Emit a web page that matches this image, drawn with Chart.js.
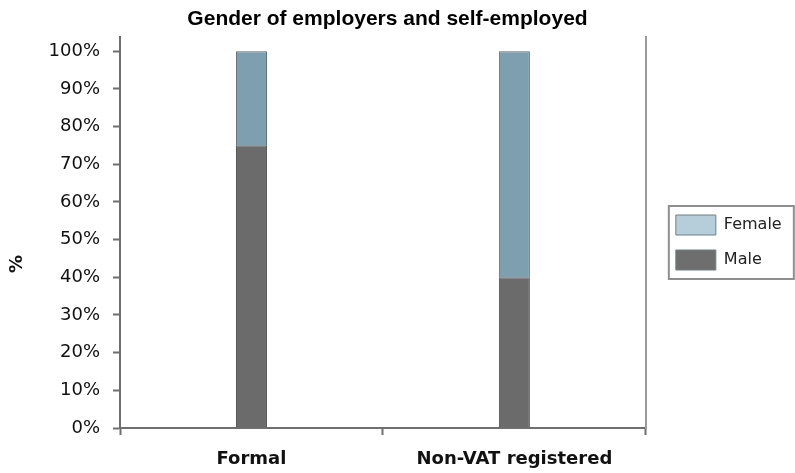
<!DOCTYPE html>
<html>
<head>
<meta charset="utf-8">
<title>Gender of employers and self-employed</title>
<script src="https://cdn.jsdelivr.net/npm/chart.js@4.4.0/dist/chart.umd.min.js"></script>
<style>
  html, body { margin: 0; padding: 0; background: #fff; }
  #wrap { width: 795px; height: 473px; }
</style>
</head>
<body>
<div id="wrap"><canvas id="genderChart"></canvas></div>
<script>
// Share of employers / self-employed by gender (%)
const categories = ['Formal', 'Non-VAT registered'];
const maleShare = [75, 40];
const femaleShare = [25, 60];
const yTicks = [0, 10, 20, 30, 40, 50, 60, 70, 80, 90, 100];

const axisGrey = '#6f6f6f';
const legendFill = ['#6e6e6e', '#b6ced9'];

// move the legend a little right/down and put a frame round it
const legendFrame = {
    id: 'legendFrame',
    afterLayout(chart) {
        const lg = chart.legend;
        lg.left += 15; lg.right += 15;
        lg.top += 6; lg.bottom += 6;
    },
    afterDraw(chart) {
        const boxes = chart.legend.legendHitBoxes;
        if (!boxes || !boxes.length) return;
        const first = boxes[0], last = boxes[boxes.length - 1];
        const ctx = chart.ctx;
        const x = first.left - 7;
        const y = first.top - 9;
        const h = last.top + last.height - first.top + 18;
        ctx.save();
        ctx.strokeStyle = '#8f8f8f';
        ctx.lineWidth = 2;
        ctx.strokeRect(x, y, 125, h);
        ctx.restore();
    }
};

const ctx = document.getElementById('genderChart').getContext('2d');
const genderChart = new Chart(ctx, {
    type: 'bar',
    data: {
        labels: categories,
        datasets: [{
            label: 'Male',
            data: maleShare,
            backgroundColor: '#6b6b6b',
            borderColor: '#4f4f4f',
            borderWidth: 1
        }, {
            label: 'Female',
            data: femaleShare,
            backgroundColor: '#7d9fb0',
            borderColor: '#5a6a72',
            borderWidth: 1
        }]
    },
    options: {
        responsive: true,
        maintainAspectRatio: false,
        animation: false,
        layout: { padding: { left: 0, right: 20, top: 0, bottom: 0 } },
        datasets: { bar: { categoryPercentage: 1, barPercentage: 0.118 } },
        plugins: {
            title: {
                display: true,
                text: 'Gender of employers and self-employed',
                color: '#000',
                font: { family: 'Liberation Sans, Arial', size: 21, weight: 'bold' },
                padding: { top: 7, bottom: 5 }
            },
            legend: {
                display: true,
                position: 'right',
                reverse: true,
                labels: {
                    boxWidth: 40,
                    boxHeight: 20,
                    padding: 15,
                    color: '#222',
                    font: { family: 'DejaVu Sans', size: 16 },
                    generateLabels(chart) {
                        const items = Chart.defaults.plugins.legend.labels.generateLabels(chart);
                        items.forEach(it => {
                            it.fillStyle = legendFill[it.datasetIndex];
                            it.strokeStyle = '#6f7f87';
                            it.lineWidth = 1;
                        });
                        return items;
                    }
                }
            },
            tooltip: { enabled: false }
        },
        scales: {
            x: {
                stacked: true,
                offset: true,
                grid: {
                    offset: true,
                    drawOnChartArea: false,
                    drawTicks: true,
                    tickLength: 7,
                    tickWidth: 2,
                    color: axisGrey
                },
                border: { display: true, color: axisGrey, width: 2 },
                ticks: {
                    color: '#111',
                    padding: 14,
                    font: { family: 'DejaVu Sans', size: 18, weight: 'bold' }
                },
                afterFit(scale) { scale.height = 45; }
            },
            y: {
                stacked: true,
                min: 0,
                max: 103.7,
                afterBuildTicks(scale) {
                    scale.ticks = yTicks.map(v => ({ value: v }));
                },
                grid: {
                    drawOnChartArea: false,
                    drawTicks: true,
                    tickLength: 7,
                    tickWidth: 2,
                    color: axisGrey
                },
                border: { display: true, color: axisGrey, width: 2 },
                ticks: {
                    color: '#111',
                    padding: 13,
                    font: { family: 'DejaVu Sans', size: 18 },
                    callback: v => v + '%'
                },
                title: {
                    display: true,
                    text: '%          ',
                    color: '#111',
                    padding: { top: 7, bottom: 0 },
                    font: { family: 'DejaVu Sans', size: 18, weight: 'bold' }
                },
                afterFit(scale) { scale.width = 120; }
            },
            yRight: {
                position: 'right',
                min: 0,
                max: 103.7,
                grid: { display: false },
                ticks: { display: false },
                border: { display: true, color: '#9a9a9a', width: 2 },
                afterFit(scale) { scale.width = 0; }
            }
        }
    },
    plugins: [legendFrame]
});
</script>
</body>
</html>
